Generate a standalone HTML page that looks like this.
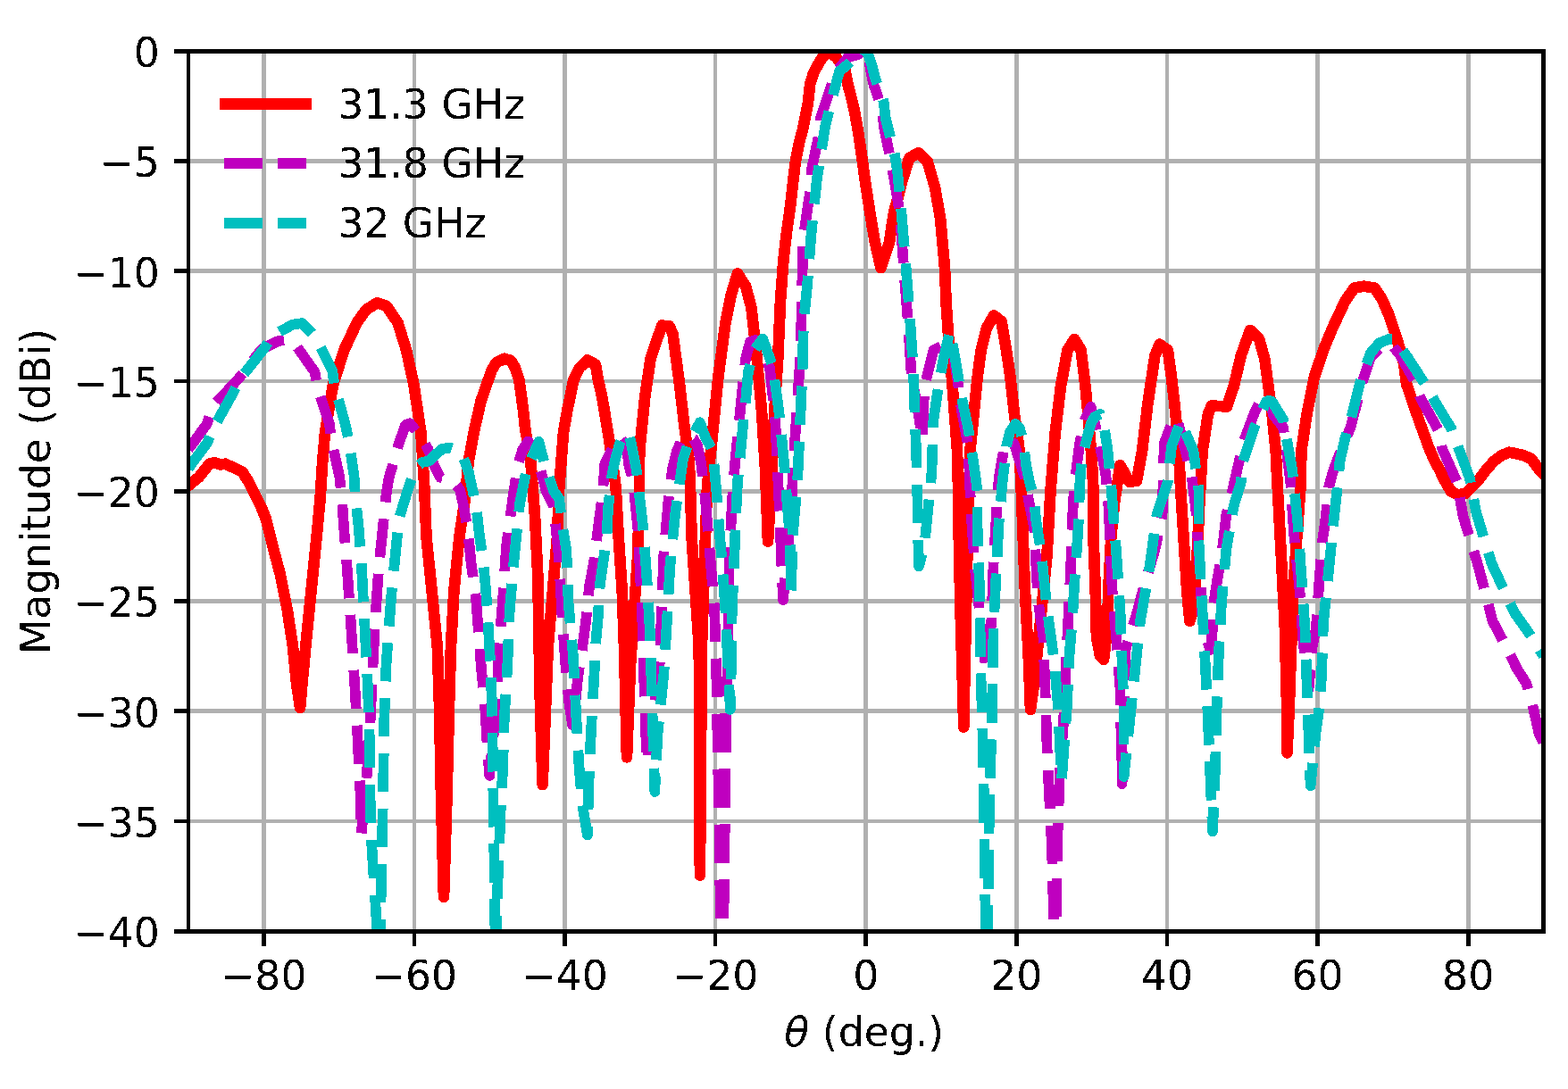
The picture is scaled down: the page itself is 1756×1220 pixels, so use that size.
<!DOCTYPE html><html><head><meta charset="utf-8"><style>html,body{margin:0;padding:0;background:#fff;width:1756px;height:1220px;overflow:hidden}</style></head><body><svg xmlns="http://www.w3.org/2000/svg" width="1756" height="1220" viewBox="0 0 1756 1220" style="display:block"><rect width="1756" height="1220" fill="#fff"/><defs><filter id="bin" x="0" y="0" width="100%" height="100%" color-interpolation-filters="sRGB"><feComponentTransfer><feFuncA type="discrete" tableValues="0 1"/></feComponentTransfer></filter><clipPath id="ax"><rect x="211.0" y="57.5" width="1517.5" height="986.0"/></clipPath></defs><g fill="#b0b0b0" shape-rendering="crispEdges"><rect x="293" y="57" width="5" height="986"/><rect x="462" y="57" width="4" height="986"/><rect x="630" y="57" width="5" height="986"/><rect x="799" y="57" width="4" height="986"/><rect x="967" y="57" width="5" height="986"/><rect x="1136" y="57" width="5" height="986"/><rect x="1305" y="57" width="4" height="986"/><rect x="1473" y="57" width="5" height="986"/><rect x="1642" y="57" width="5" height="986"/><rect x="211" y="918" width="1517" height="4"/><rect x="211" y="794" width="1517" height="5"/><rect x="211" y="671" width="1517" height="5"/><rect x="211" y="548" width="1517" height="5"/><rect x="211" y="425" width="1517" height="4"/><rect x="211" y="301" width="1517" height="5"/><rect x="211" y="178" width="1517" height="5"/></g><g clip-path="url(#ax)" shape-rendering="crispEdges"><path d="M211.0 544.0 L222.7 534.5 L234.5 519.7 L240.4 518.2 L246.3 520.4 L252.2 519.7 L264.0 524.9 L271.4 528.6 L278.8 540.4 L284.7 552.2 L292.1 566.9 L298.0 581.7 L302.4 599.4 L306.8 617.1 L313.6 642.5 L321.8 683.4 L328.0 724.4 L332.0 765.4 L336.1 792.9 L338.5 765.4 L342.3 724.4 L348.4 663.0 L354.6 601.5 L358.5 560.0 L361.0 520.0 L364.0 484.4 L373.0 431.1 L385.3 392.2 L399.7 361.5 L409.9 347.1 L422.2 339.3 L433.0 343.0 L445.5 361.5 L455.0 392.2 L463.5 431.1 L471.4 484.4 L475.0 540.0 L477.5 601.5 L483.7 663.0 L489.8 724.4 L492.0 790.0 L494.0 892.0 L497.0 1005.0 L500.5 892.0 L503.0 790.0 L505.0 724.0 L508.3 663.0 L514.4 601.5 L520.6 560.5 L524.6 517.8 L530.9 483.3 L538.7 448.9 L546.7 425.9 L550.8 414.4 L556.0 406.0 L565.1 401.8 L572.0 404.0 L577.0 412.0 L581.4 425.9 L583.4 440.0 L586.0 460.0 L588.5 483.0 L593.7 508.8 L599.0 577.6 L602.4 646.4 L603.5 715.0 L605.0 790.0 L607.6 879.1 L613.8 724.4 L618.9 663.0 L624.0 601.5 L626.0 550.0 L631.0 484.4 L635.5 458.7 L638.3 445.6 L642.3 425.9 L649.0 412.0 L658.0 403.4 L667.0 408.5 L670.0 426.0 L674.4 445.6 L677.5 463.9 L682.5 494.7 L689.6 545.0 L692.7 601.5 L696.8 663.0 L699.0 724.4 L702.0 848.4 L706.0 744.9 L710.1 683.4 L714.2 622.0 L716.0 555.0 L716.2 504.9 L722.4 443.4 L728.5 402.5 L735.5 381.0 L741.5 364.6 L749.5 365.4 L753.5 374.0 L757.3 402.5 L761.4 433.2 L766.0 474.2 L771.6 515.2 L773.0 545.0 L774.6 601.5 L778.7 663.0 L782.8 724.4 L783.9 980.6 L785.9 724.4 L788.0 663.0 L790.0 601.5 L792.0 545.0 L798.2 484.4 L804.3 423.0 L812.5 361.5 L818.7 330.7 L825.9 306.4 L835.1 320.5 L841.5 345.0 L847.5 400.0 L853.0 460.0 L857.0 525.0 L860.0 606.6 L864.7 525.4 L867.1 464.0 L871.2 402.5 L874.0 337.0 L877.5 290.0 L881.0 260.0 L885.0 232.0 L888.0 205.0 L891.0 180.0 L895.0 160.0 L899.0 145.0 L904.8 116.4 L907.2 94.2 L911.0 82.0 L916.2 72.1 L922.0 63.0 L929.5 58.3 L936.9 64.7 L942.0 71.0 L946.5 79.5 L949.4 94.2 L953.0 108.0 L956.8 123.7 L961.0 147.0 L965.5 178.0 L968.5 200.0 L971.5 220.0 L974.0 236.0 L977.0 255.0 L980.0 272.0 L983.5 287.0 L986.5 300.0 L991.0 286.0 L995.9 272.2 L999.0 250.0 L1001.5 236.0 L1006.0 220.0 L1010.1 203.7 L1018.3 177.0 L1028.5 171.1 L1038.8 181.1 L1047.0 209.8 L1053.1 244.7 L1058.0 300.0 L1059.7 341.0 L1062.5 382.0 L1065.9 423.0 L1069.0 464.0 L1072.0 505.0 L1073.0 545.0 L1074.1 622.0 L1076.1 703.9 L1078.6 785.9 L1079.2 814.6 L1083.3 622.0 L1085.5 545.0 L1086.4 505.0 L1090.5 464.0 L1094.6 423.0 L1098.7 392.2 L1104.8 367.6 L1113.0 353.5 L1121.5 360.0 L1127.0 392.2 L1131.5 423.0 L1136.0 464.0 L1141.7 505.0 L1143.8 550.0 L1148.0 663.0 L1152.0 740.0 L1154.0 795.0 L1158.2 765.4 L1166.4 683.4 L1172.5 622.0 L1176.5 550.0 L1181.8 484.4 L1187.9 433.2 L1195.5 392.2 L1203.3 380.1 L1210.5 392.2 L1214.0 420.0 L1216.2 440.0 L1219.0 470.0 L1221.5 500.0 L1223.3 525.4 L1224.5 550.0 L1224.5 601.5 L1226.8 663.0 L1228.0 714.2 L1232.0 734.7 L1236.0 738.8 L1240.2 704.0 L1241.2 663.0 L1244.3 601.5 L1248.4 560.5 L1254.5 521.3 L1264.8 539.8 L1273.0 538.7 L1279.1 504.9 L1285.2 453.7 L1293.4 398.4 L1298.6 385.7 L1307.8 392.2 L1312.0 423.0 L1315.5 453.7 L1319.5 494.7 L1322.0 545.0 L1325.5 601.5 L1329.3 663.0 L1332.4 695.7 L1336.5 683.4 L1340.6 622.0 L1343.5 560.5 L1346.7 504.9 L1352.9 463.9 L1357.0 454.5 L1365.0 455.0 L1374.0 455.5 L1381.6 433.2 L1389.8 398.4 L1400.0 369.9 L1410.2 380.0 L1416.4 402.5 L1420.5 433.2 L1424.6 463.9 L1428.7 504.9 L1430.7 545.0 L1434.8 622.0 L1438.9 703.9 L1441.0 786.0 L1441.5 843.4 L1444.0 786.0 L1446.1 724.4 L1448.2 663.0 L1452.3 601.5 L1456.5 545.0 L1457.4 505.0 L1463.5 464.0 L1471.7 423.0 L1482.0 392.2 L1492.2 367.6 L1506.6 336.9 L1516.8 322.5 L1527.0 320.7 L1539.3 322.5 L1547.5 334.8 L1555.7 353.3 L1563.9 377.9 L1572.1 406.6 L1575.0 430.0 L1581.1 447.7 L1587.0 465.0 L1593.2 482.1 L1600.0 501.0 L1606.0 515.0 L1612.0 526.0 L1616.4 535.7 L1624.6 550.1 L1632.8 554.3 L1641.0 553.0 L1649.2 544.8 L1657.4 535.7 L1665.6 524.7 L1673.8 516.0 L1682.0 509.9 L1690.2 506.8 L1698.4 508.3 L1706.6 510.3 L1714.8 514.0 L1723.0 525.1 L1728.5 531.0" stroke="#ff0000" stroke-width="12.7" fill="none" stroke-linejoin="round" stroke-linecap="square"/><path d="M211.0 503.0 L214.2 499.0 L231.6 475.2 L237.8 455.7 L266.5 425.0 L293.1 391.2 L311.6 382.0 L319.8 381.0 L328.0 382.0 L352.5 416.8 L355.6 435.2 L368.9 474.2 L371.0 492.6 L380.2 533.6 L383.0 560.0 L385.3 593.3 L388.4 632.2 L392.5 691.6 L397.6 772.6 L399.7 810.0 L401.7 851.5 L403.8 894.5 L404.5 935.0 L410.0 880.0 L414.0 820.0 L418.1 734.7 L420.2 693.7 L424.3 634.3 L428.4 595.3 L432.5 554.3 L435.5 535.7 L446.8 496.7 L454.0 476.2 L459.1 474.2 L470.0 488.0 L479.3 502.9 L486.7 522.5 L492.9 534.8 L499.0 536.1 L506.4 538.5 L515.0 548.4 L519.9 570.5 L524.0 595.0 L527.5 630.0 L532.9 669.0 L536.0 709.0 L539.0 749.0 L543.0 790.0 L546.0 840.0 L548.2 868.9 L552.0 830.0 L556.2 790.7 L558.6 730.3 L563.1 670.7 L567.2 610.3 L575.2 551.7 L580.0 520.0 L585.5 503.0 L591.5 494.5 L599.4 505.0 L605.6 527.5 L611.7 550.0 L619.9 566.6 L626.1 626.0 L629.2 686.0 L633.5 747.0 L637.0 785.0 L641.0 812.0 L644.0 790.0 L647.3 757.5 L652.0 727.0 L656.0 697.0 L660.0 657.0 L665.0 630.0 L669.1 597.4 L675.2 550.0 L677.3 519.3 L691.6 490.5 L695.7 492.0 L701.9 500.0 L703.9 519.3 L709.0 539.0 L714.8 597.6 L717.6 657.9 L720.3 718.3 L721.7 778.6 L723.8 839.0 L725.0 853.5 L727.0 830.0 L733.0 790.0 L739.0 740.7 L741.0 680.3 L743.4 620.0 L748.6 559.7 L753.0 525.0 L758.0 505.0 L763.0 494.0 L770.0 488.2 L777.0 492.0 L781.0 499.2 L785.0 518.0 L790.0 560.0 L795.0 620.0 L800.0 680.0 L802.0 737.0 L803.0 800.0 L805.0 900.0 L808.0 1100.0 L811.0 1000.0 L812.0 900.0 L813.0 840.0 L814.0 780.0 L815.0 720.0 L816.0 680.0 L816.5 640.0 L818.0 600.0 L820.0 560.0 L823.0 520.0 L826.0 490.0 L829.0 460.0 L832.0 430.0 L835.0 402.0 L840.0 383.0 L846.0 381.0 L854.0 393.0 L862.0 412.0 L868.0 466.0 L870.8 527.0 L873.6 588.0 L876.0 650.0 L877.0 672.0 L882.0 620.0 L886.0 570.0 L889.0 510.0 L891.7 470.0 L895.0 420.0 L897.0 390.0 L897.5 350.0 L899.4 271.3 L901.5 252.9 L907.6 211.9 L908.6 191.4 L916.8 152.5 L918.9 132.0 L932.2 93.0 L939.0 77.5 L950.0 64.0 L961.3 61.0 L969.8 50.0 L976.4 86.0 L978.5 95.0 L987.5 121.7 L990.0 142.2 L997.8 181.1 L1003.0 210.0 L1008.0 240.6 L1012.1 300.0 L1016.7 359.4 L1020.8 420.9 L1027.0 453.7 L1033.1 492.6 L1035.2 433.2 L1045.4 392.2 L1057.7 386.0 L1065.9 386.0 L1072.0 423.0 L1077.0 460.0 L1084.3 500.0 L1086.4 550.0 L1088.5 590.0 L1092.4 642.0 L1097.7 691.0 L1101.0 720.0 L1104.0 748.0 L1108.0 722.0 L1110.5 693.0 L1112.5 634.0 L1116.0 574.0 L1117.1 554.3 L1119.0 533.6 L1125.3 496.7 L1129.0 494.7 L1135.6 496.7 L1147.9 535.7 L1152.0 560.5 L1158.2 591.2 L1162.3 671.1 L1168.4 714.2 L1170.5 773.6 L1173.0 850.0 L1178.0 950.0 L1182.0 1100.0 L1184.0 950.0 L1187.0 860.0 L1191.0 810.0 L1193.0 760.0 L1196.0 700.0 L1199.0 640.0 L1201.0 580.0 L1203.0 545.0 L1209.4 494.7 L1215.0 470.0 L1221.7 455.7 L1229.9 490.6 L1238.1 529.5 L1241.0 560.0 L1243.0 600.0 L1246.0 670.0 L1250.0 712.0 L1254.5 771.6 L1256.6 878.1 L1260.7 726.5 L1273.0 687.5 L1281.1 656.8 L1293.4 616.0 L1301.6 576.9 L1303.7 496.7 L1313.9 470.1 L1318.0 468.0 L1324.2 492.6 L1334.4 531.6 L1339.2 570.7 L1343.5 634.6 L1346.7 696.5 L1351.0 715.0 L1355.5 728.0 L1358.0 705.0 L1360.5 666.6 L1364.0 645.0 L1368.0 624.0 L1373.3 577.0 L1377.5 562.0 L1381.0 545.9 L1393.0 494.0 L1405.0 462.0 L1413.0 447.0 L1421.0 443.0 L1426.0 465.0 L1436.9 478.3 L1440.0 500.0 L1445.1 537.7 L1449.2 599.4 L1455.3 658.9 L1459.4 718.3 L1465.6 771.7 L1469.7 724.4 L1473.8 703.9 L1477.9 644.5 L1481.0 605.6 L1484.0 585.1 L1488.1 546.1 L1492.2 530.0 L1500.4 508.0 L1512.7 478.3 L1525.0 430.0 L1535.2 400.0 L1549.6 386.1 L1560.0 388.0 L1568.0 398.0 L1584.4 427.0 L1590.6 445.5 L1611.1 482.4 L1615.2 502.9 L1631.6 539.8 L1638.7 578.9 L1656.1 636.3 L1671.5 695.7 L1689.0 728.7 L1698.2 748.0 L1709.4 765.6 L1715.6 786.9 L1723.8 823.0 L1728.5 832.0" stroke="#bf00bf" stroke-width="11.7" fill="none" stroke-linejoin="round" stroke-linecap="butt" stroke-dasharray="43.3 18.7"/><path d="M211.0 525.0 L213.2 521.5 L231.6 496.7 L240.9 476.2 L260.3 441.4 L268.5 425.0 L295.2 391.2 L305.4 375.8 L328.0 363.5 L338.2 362.1 L353.6 377.9 L372.0 414.8 L375.0 433.2 L386.4 474.2 L390.5 492.6 L396.6 533.6 L397.6 552.3 L401.7 591.2 L404.8 632.2 L407.9 691.6 L412.0 771.6 L414.0 833.0 L414.5 892.0 L416.0 942.0 L422.2 1040.0 L424.0 1100.0 L427.3 982.6 L428.4 923.2 L429.4 863.8 L430.4 802.0 L432.5 745.0 L435.5 704.0 L438.6 663.0 L442.7 622.0 L446.8 581.0 L452.3 563.1 L458.0 545.0 L465.8 523.8 L473.0 518.0 L480.6 516.4 L488.0 509.0 L495.3 502.9 L503.9 501.6 L511.0 504.0 L517.5 509.0 L524.8 528.7 L529.0 548.0 L533.4 568.0 L537.0 600.0 L541.1 628.1 L544.0 660.0 L546.0 687.5 L549.0 740.0 L551.0 790.0 L554.0 1000.0 L555.0 1100.0 L557.0 1000.0 L561.0 900.0 L563.1 862.0 L564.8 804.5 L568.3 744.8 L570.7 684.5 L575.9 624.1 L582.1 563.8 L590.0 525.0 L603.5 494.7 L609.7 519.3 L620.0 550.0 L626.1 558.4 L630.0 590.0 L634.3 615.8 L636.7 676.5 L642.0 736.0 L645.0 797.0 L648.4 856.7 L652.0 900.0 L657.8 935.5 L659.5 876.0 L661.2 835.0 L662.2 815.0 L664.4 774.6 L665.5 755.0 L667.6 715.0 L669.5 695.7 L671.8 655.0 L675.5 630.0 L679.5 600.0 L681.0 570.0 L684.8 535.6 L688.5 516.5 L694.0 497.0 L699.5 485.0 L705.0 488.0 L709.4 509.2 L713.1 528.6 L720.0 589.0 L724.5 649.3 L727.9 708.0 L729.7 768.3 L731.5 830.0 L733.3 887.0 L735.0 850.0 L736.6 821.7 L743.4 754.5 L746.9 695.9 L750.3 635.5 L756.2 575.2 L765.2 513.1 L771.6 494.7 L783.9 473.2 L790.0 490.0 L798.2 504.9 L802.3 550.0 L806.0 600.0 L808.4 626.1 L812.5 685.5 L815.0 740.0 L817.8 795.0 L819.0 740.0 L819.5 694.0 L821.0 655.0 L822.5 620.0 L824.0 580.0 L826.0 540.0 L829.0 510.0 L832.0 477.0 L835.0 450.0 L838.0 416.0 L845.0 392.0 L854.1 379.5 L865.2 410.0 L870.8 449.0 L873.6 471.4 L879.1 530.0 L881.9 569.0 L884.7 600.0 L885.5 640.0 L886.0 667.0 L887.5 602.3 L893.0 541.0 L895.8 479.8 L898.6 415.7 L900.0 360.0 L904.0 320.0 L905.6 300.0 L908.6 261.0 L914.8 201.6 L924.0 142.2 L934.3 101.2 L940.0 80.0 L950.0 71.7 L960.0 62.0 L967.0 56.0 L972.0 60.0 L976.8 74.7 L979.6 85.9 L989.6 113.5 L991.6 132.0 L1001.9 173.0 L1005.0 191.4 L1009.0 232.4 L1014.2 293.9 L1018.8 353.3 L1022.9 414.8 L1024.9 474.2 L1027.0 533.6 L1028.0 593.3 L1029.0 634.3 L1035.2 611.7 L1039.3 570.7 L1043.4 529.5 L1045.4 470.1 L1051.6 429.1 L1057.0 400.0 L1064.0 371.0 L1068.0 392.2 L1078.2 451.6 L1084.3 480.0 L1090.5 520.0 L1094.6 550.0 L1094.5 587.0 L1096.7 651.0 L1097.7 710.6 L1098.8 771.0 L1100.0 800.0 L1102.0 900.0 L1104.0 1060.0 L1106.0 1060.0 L1108.0 900.0 L1111.0 800.0 L1111.6 761.7 L1112.6 702.0 L1115.8 640.2 L1119.0 578.4 L1121.0 560.5 L1122.3 542.4 L1125.0 520.0 L1127.3 499.0 L1131.0 484.0 L1137.0 475.0 L1142.0 480.0 L1146.0 495.0 L1149.2 521.7 L1153.0 540.0 L1158.1 559.1 L1160.0 581.0 L1166.4 622.0 L1172.5 681.4 L1180.7 740.8 L1184.8 790.0 L1188.9 874.0 L1195.0 790.0 L1197.1 740.0 L1201.2 690.0 L1203.3 652.7 L1207.4 593.3 L1209.4 540.0 L1211.5 513.1 L1221.7 474.2 L1226.0 467.0 L1232.0 464.0 L1236.0 475.0 L1240.3 502.9 L1244.0 540.0 L1250.4 622.0 L1254.5 683.4 L1256.6 742.9 L1258.6 790.0 L1258.6 870.0 L1270.9 753.1 L1277.0 695.7 L1287.3 636.3 L1295.5 576.9 L1307.8 540.0 L1312.0 500.0 L1322.1 472.1 L1330.0 490.0 L1336.5 504.9 L1342.6 550.0 L1342.4 604.8 L1345.6 666.6 L1348.8 726.3 L1352.0 786.0 L1355.0 860.0 L1358.0 931.4 L1361.0 860.0 L1362.6 794.5 L1364.8 734.8 L1368.0 675.1 L1373.3 615.4 L1381.8 566.4 L1389.8 540.0 L1391.8 517.2 L1404.1 480.3 L1418.0 450.0 L1421.0 448.5 L1424.6 450.0 L1436.9 470.0 L1447.1 525.4 L1453.3 585.1 L1457.4 644.5 L1461.5 703.9 L1463.5 765.4 L1467.6 880.3 L1473.8 818.9 L1477.9 790.0 L1480.0 757.2 L1482.0 697.8 L1488.1 638.4 L1494.3 576.9 L1498.4 540.0 L1500.4 517.2 L1506.6 490.0 L1512.7 470.0 L1525.0 420.9 L1535.2 395.0 L1545.0 384.0 L1555.7 379.9 L1562.0 380.0 L1576.2 400.0 L1598.8 435.0 L1607.0 450.0 L1625.4 480.3 L1645.9 535.7 L1653.1 573.8 L1670.5 631.2 L1696.1 686.5 L1710.0 706.0 L1722.7 725.5 L1728.5 735.0" stroke="#00bfbf" stroke-width="11.7" fill="none" stroke-linejoin="round" stroke-linecap="butt" stroke-dasharray="43.3 18.7"/></g><g fill="#000" shape-rendering="crispEdges"><rect x="209" y="55" width="1522" height="5"/><rect x="209" y="1041" width="1522" height="5"/><rect x="209" y="55" width="4" height="991"/><rect x="1726" y="55" width="5" height="991"/><rect x="293" y="1041" width="5" height="19"/><rect x="462" y="1041" width="4" height="19"/><rect x="630" y="1041" width="5" height="19"/><rect x="799" y="1041" width="4" height="19"/><rect x="967" y="1041" width="5" height="19"/><rect x="1136" y="1041" width="5" height="19"/><rect x="1305" y="1041" width="4" height="19"/><rect x="1473" y="1041" width="5" height="19"/><rect x="1642" y="1041" width="5" height="19"/><rect x="195" y="1041" width="16" height="5"/><rect x="195" y="918" width="16" height="4"/><rect x="195" y="794" width="16" height="5"/><rect x="195" y="671" width="16" height="5"/><rect x="195" y="548" width="16" height="5"/><rect x="195" y="425" width="16" height="4"/><rect x="195" y="301" width="16" height="5"/><rect x="195" y="178" width="16" height="5"/><rect x="195" y="55" width="16" height="5"/></g><g font-family="'DejaVu Sans', 'Liberation Sans', sans-serif" font-size="45.7" fill="#000" filter="url(#bin)"><text x="295.31" y="1108.9" text-anchor="middle">−80</text><text x="463.92" y="1108.9" text-anchor="middle">−60</text><text x="632.53" y="1108.9" text-anchor="middle">−40</text><text x="801.14" y="1108.9" text-anchor="middle">−20</text><text x="969.75" y="1108.9" text-anchor="middle">0</text><text x="1138.36" y="1108.9" text-anchor="middle">20</text><text x="1306.97" y="1108.9" text-anchor="middle">40</text><text x="1475.58" y="1108.9" text-anchor="middle">60</text><text x="1644.19" y="1108.9" text-anchor="middle">80</text><text x="178.9" y="1061.15" text-anchor="end">−40</text><text x="178.9" y="937.90" text-anchor="end">−35</text><text x="178.9" y="814.65" text-anchor="end">−30</text><text x="178.9" y="691.40" text-anchor="end">−25</text><text x="178.9" y="568.15" text-anchor="end">−20</text><text x="178.9" y="444.90" text-anchor="end">−15</text><text x="178.9" y="321.65" text-anchor="end">−10</text><text x="178.9" y="198.40" text-anchor="end">−5</text><text x="178.9" y="75.15" text-anchor="end">0</text><text x="967.75" y="1171.6" text-anchor="middle"><tspan font-style="italic">θ</tspan> (deg.)</text><text transform="translate(56.1 550.5) rotate(-90)" text-anchor="middle">Magnitude (dBi)</text><text x="378.2" y="132.8">31.3 GHz</text><text x="378.2" y="199.0">31.8 GHz</text><text x="378.2" y="265.9">32 GHz</text></g><g shape-rendering="crispEdges"><rect x="246" y="110" width="103" height="13" fill="#ff0000"/><rect x="251" y="177" width="43" height="12" fill="#bf00bf"/><rect x="311" y="177" width="32" height="12" fill="#bf00bf"/><rect x="251" y="244" width="43" height="12" fill="#00bfbf"/><rect x="311" y="244" width="32" height="12" fill="#00bfbf"/></g></svg></body></html>
